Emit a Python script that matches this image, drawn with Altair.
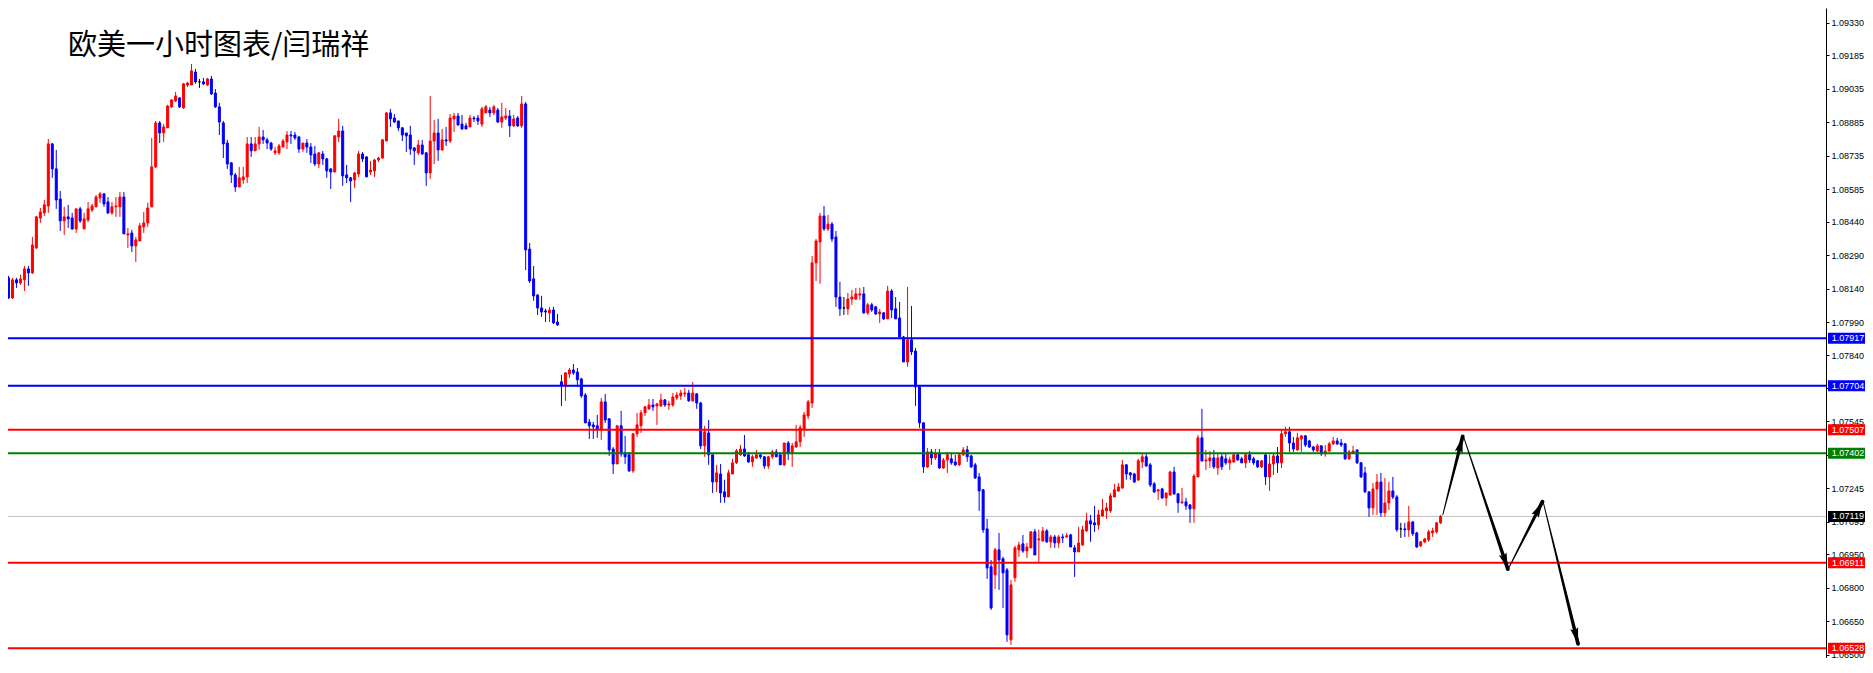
import altair as alt
import pandas as pd

# ---------------- data (EURUSD H1) ----------------
bar_index = list(range(-1, 361))

open_price = [
    1.08309, 1.08188, 1.08098, 1.08179, 1.08165, 1.08179, 1.08228, 1.08210, 1.08322, 1.08456,
    1.08479, 1.08510, 1.08788, 1.08676, 1.08541, 1.08443, 1.08461, 1.08456, 1.08407, 1.08497,
    1.08407, 1.08447, 1.08492, 1.08506, 1.08546, 1.08564, 1.08528, 1.08479, 1.08506, 1.08506,
    1.08550, 1.08380, 1.08389, 1.08331, 1.08353, 1.08416, 1.08434, 1.08506, 1.08685, 1.08882,
    1.08837, 1.08860, 1.08954, 1.08981, 1.08994, 1.08949, 1.09052, 1.09052, 1.09110, 1.09066,
    1.09066, 1.09052, 1.09079, 1.09016, 1.08954, 1.08882, 1.08792, 1.08703, 1.08649, 1.08595,
    1.08627, 1.08640, 1.08788, 1.08757, 1.08788, 1.08819, 1.08806, 1.08792, 1.08748, 1.08748,
    1.08774, 1.08797, 1.08828, 1.08828, 1.08819, 1.08765, 1.08792, 1.08774, 1.08743, 1.08698,
    1.08743, 1.08721, 1.08676, 1.08662, 1.08819, 1.08846, 1.08649, 1.08636, 1.08627, 1.08653,
    1.08743, 1.08730, 1.08662, 1.08667, 1.08716, 1.08725, 1.08801, 1.08927, 1.08904, 1.08891,
    1.08860, 1.08837, 1.08828, 1.08770, 1.08748, 1.08783, 1.08748, 1.08658, 1.08801, 1.08837,
    1.08761, 1.08806, 1.08801, 1.08900, 1.08913, 1.08877, 1.08869, 1.08864, 1.08904, 1.08904,
    1.08877, 1.08927, 1.08940, 1.08927, 1.08940, 1.08886, 1.08904, 1.08913, 1.08869, 1.08904,
    1.08869, 1.08967, 1.08317, 1.08183, 1.08111, 1.08053, 1.08040, 1.08031, 1.08044, 1.07990,
    1.07722, 1.07708, 1.07757, 1.07775, 1.07766, 1.07735, 1.07663, 1.07542, 1.07529, 1.07525,
    1.07507, 1.07632, 1.07556, 1.07421, 1.07354, 1.07525, 1.07404, 1.07395, 1.07323, 1.07489,
    1.07525, 1.07583, 1.07601, 1.07618, 1.07614, 1.07614, 1.07641, 1.07618, 1.07618, 1.07650,
    1.07659, 1.07668, 1.07672, 1.07637, 1.07668, 1.07627, 1.07435, 1.07493, 1.07395, 1.07273,
    1.07309, 1.07229, 1.07206, 1.07309, 1.07359, 1.07395, 1.07421, 1.07395, 1.07363, 1.07381,
    1.07395, 1.07386, 1.07345, 1.07386, 1.07408, 1.07395, 1.07350, 1.07448, 1.07404, 1.07430,
    1.07453, 1.07511, 1.07569, 1.07627, 1.08255, 1.08349, 1.08465, 1.08407, 1.08429, 1.08371,
    1.08102, 1.08053, 1.08049, 1.08093, 1.08093, 1.08111, 1.08116, 1.08031, 1.08067, 1.08058,
    1.08026, 1.08031, 1.08004, 1.08129, 1.08049, 1.08008, 1.07923, 1.07811, 1.07910, 1.07860,
    1.07699, 1.07538, 1.07341, 1.07408, 1.07381, 1.07399, 1.07336, 1.07372, 1.07377, 1.07363,
    1.07350, 1.07395, 1.07417, 1.07390, 1.07350, 1.07296, 1.07238, 1.07063, 1.06893, 1.06857,
    1.06969, 1.06929, 1.06879, 1.06566, 1.06844, 1.06969, 1.06996, 1.06964, 1.06978, 1.07050,
    1.07014, 1.07009, 1.07054, 1.07005, 1.07027, 1.07000, 1.07027, 1.07027, 1.07036, 1.06978,
    1.06960, 1.06991, 1.07054, 1.07099, 1.07090, 1.07081, 1.07121, 1.07144, 1.07144, 1.07206,
    1.07233, 1.07247, 1.07350, 1.07314, 1.07309, 1.07282, 1.07363, 1.07386, 1.07350, 1.07265,
    1.07233, 1.07242, 1.07202, 1.07215, 1.07318, 1.07220, 1.07180, 1.07184, 1.07170, 1.07153,
    1.07296, 1.07471, 1.07368, 1.07368, 1.07381, 1.07336, 1.07386, 1.07377, 1.07359, 1.07363,
    1.07395, 1.07377, 1.07359, 1.07395, 1.07377, 1.07368, 1.07341, 1.07395, 1.07296, 1.07354,
    1.07390, 1.07359, 1.07489, 1.07498, 1.07448, 1.07417, 1.07466, 1.07480, 1.07457, 1.07430,
    1.07412, 1.07435, 1.07399, 1.07412, 1.07444, 1.07457, 1.07448, 1.07444, 1.07377, 1.07404,
    1.07417, 1.07359, 1.07314, 1.07229, 1.07157, 1.07242, 1.07273, 1.07135, 1.07179, 1.07233,
    1.07206, 1.07063, 1.07063, 1.07059, 1.07094, 1.07045, 1.06987, 1.07005, 1.07014, 1.07045,
    1.07050, 1.07090,
]

high_price = [
    1.08317, 1.08197, 1.08188, 1.08188, 1.08201, 1.08241, 1.08241, 1.08371, 1.08465, 1.08501,
    1.08537, 1.08810, 1.08792, 1.08761, 1.08577, 1.08506, 1.08515, 1.08479, 1.08497, 1.08506,
    1.08479, 1.08528, 1.08519, 1.08559, 1.08573, 1.08568, 1.08550, 1.08528, 1.08550, 1.08573,
    1.08573, 1.08411, 1.08403, 1.08371, 1.08434, 1.08483, 1.08524, 1.08815, 1.08891, 1.08891,
    1.08877, 1.08963, 1.08989, 1.09021, 1.08998, 1.09061, 1.09066, 1.09146, 1.09124, 1.09079,
    1.09084, 1.09084, 1.09093, 1.09034, 1.08972, 1.08891, 1.08806, 1.08707, 1.08658, 1.08685,
    1.08685, 1.08819, 1.08819, 1.08819, 1.08864, 1.08851, 1.08815, 1.08797, 1.08774, 1.08788,
    1.08810, 1.08846, 1.08846, 1.08842, 1.08824, 1.08792, 1.08810, 1.08792, 1.08779, 1.08752,
    1.08757, 1.08725, 1.08680, 1.08828, 1.08900, 1.08869, 1.08694, 1.08640, 1.08662, 1.08756,
    1.08752, 1.08730, 1.08712, 1.08721, 1.08730, 1.08810, 1.08931, 1.08945, 1.08922, 1.08891,
    1.08864, 1.08837, 1.08869, 1.08774, 1.08806, 1.08806, 1.08752, 1.09003, 1.08895, 1.08900,
    1.08855, 1.08864, 1.08922, 1.08927, 1.08927, 1.08918, 1.08882, 1.08918, 1.08913, 1.08918,
    1.08954, 1.08963, 1.08954, 1.08963, 1.08949, 1.08972, 1.08949, 1.08940, 1.08918, 1.08913,
    1.09003, 1.08976, 1.08344, 1.08241, 1.08116, 1.08107, 1.08049, 1.08058, 1.08058, 1.08026,
    1.07753, 1.07766, 1.07784, 1.07802, 1.07784, 1.07740, 1.07672, 1.07556, 1.07542, 1.07574,
    1.07650, 1.07668, 1.07560, 1.07430, 1.07529, 1.07592, 1.07480, 1.07408, 1.07493, 1.07583,
    1.07596, 1.07614, 1.07645, 1.07645, 1.07627, 1.07668, 1.07645, 1.07637, 1.07672, 1.07677,
    1.07686, 1.07695, 1.07686, 1.07722, 1.07672, 1.07632, 1.07525, 1.07551, 1.07395, 1.07350,
    1.07354, 1.07283, 1.07327, 1.07377, 1.07421, 1.07439, 1.07484, 1.07408, 1.07395, 1.07417,
    1.07404, 1.07390, 1.07390, 1.07417, 1.07421, 1.07408, 1.07448, 1.07457, 1.07448, 1.07529,
    1.07529, 1.07587, 1.07641, 1.08286, 1.08362, 1.08479, 1.08510, 1.08470, 1.08438, 1.08398,
    1.08170, 1.08102, 1.08120, 1.08134, 1.08143, 1.08143, 1.08147, 1.08076, 1.08076, 1.08062,
    1.08049, 1.08035, 1.08152, 1.08138, 1.08102, 1.08080, 1.07928, 1.08147, 1.08062, 1.07874,
    1.07708, 1.07542, 1.07426, 1.07421, 1.07421, 1.07421, 1.07381, 1.07408, 1.07399, 1.07395,
    1.07404, 1.07430, 1.07435, 1.07395, 1.07359, 1.07314, 1.07242, 1.07108, 1.06924, 1.06978,
    1.07045, 1.06938, 1.06888, 1.06835, 1.06987, 1.07005, 1.07036, 1.07000, 1.07050, 1.07063,
    1.07059, 1.07072, 1.07063, 1.07036, 1.07036, 1.07036, 1.07041, 1.07045, 1.07041, 1.06991,
    1.07072, 1.07077, 1.07135, 1.07126, 1.07166, 1.07148, 1.07197, 1.07179, 1.07224, 1.07265,
    1.07269, 1.07372, 1.07354, 1.07318, 1.07314, 1.07377, 1.07399, 1.07404, 1.07359, 1.07273,
    1.07242, 1.07247, 1.07224, 1.07323, 1.07341, 1.07224, 1.07247, 1.07202, 1.07175, 1.07309,
    1.07484, 1.07601, 1.07417, 1.07412, 1.07417, 1.07404, 1.07399, 1.07399, 1.07386, 1.07399,
    1.07404, 1.07386, 1.07399, 1.07412, 1.07386, 1.07372, 1.07372, 1.07395, 1.07395, 1.07399,
    1.07430, 1.07507, 1.07520, 1.07520, 1.07475, 1.07493, 1.07484, 1.07484, 1.07462, 1.07435,
    1.07444, 1.07439, 1.07439, 1.07453, 1.07475, 1.07471, 1.07466, 1.07448, 1.07417, 1.07435,
    1.07417, 1.07363, 1.07341, 1.07229, 1.07269, 1.07309, 1.07314, 1.07291, 1.07273, 1.07296,
    1.07215, 1.07090, 1.07090, 1.07166, 1.07099, 1.07050, 1.07009, 1.07023, 1.07059, 1.07068,
    1.07094, 1.07126,
]

low_price = [
    1.08179, 1.08093, 1.08093, 1.08143, 1.08156, 1.08129, 1.08152, 1.08205, 1.08317, 1.08434,
    1.08465, 1.08479, 1.08636, 1.08497, 1.08398, 1.08380, 1.08411, 1.08403, 1.08389, 1.08434,
    1.08407, 1.08438, 1.08483, 1.08506, 1.08524, 1.08506, 1.08474, 1.08470, 1.08461, 1.08461,
    1.08385, 1.08322, 1.08304, 1.08259, 1.08353, 1.08389, 1.08416, 1.08506, 1.08680, 1.08792,
    1.08797, 1.08860, 1.08949, 1.08976, 1.08949, 1.08945, 1.09043, 1.09052, 1.09057, 1.09039,
    1.09052, 1.09048, 1.09007, 1.08949, 1.08828, 1.08725, 1.08676, 1.08613, 1.08573, 1.08595,
    1.08609, 1.08613, 1.08730, 1.08757, 1.08761, 1.08788, 1.08765, 1.08757, 1.08739, 1.08739,
    1.08774, 1.08765, 1.08788, 1.08806, 1.08748, 1.08752, 1.08748, 1.08703, 1.08689, 1.08680,
    1.08694, 1.08636, 1.08586, 1.08662, 1.08797, 1.08600, 1.08613, 1.08528, 1.08591, 1.08640,
    1.08707, 1.08640, 1.08649, 1.08640, 1.08707, 1.08721, 1.08801, 1.08864, 1.08882, 1.08846,
    1.08801, 1.08752, 1.08739, 1.08694, 1.08739, 1.08739, 1.08600, 1.08631, 1.08698, 1.08712,
    1.08757, 1.08779, 1.08792, 1.08842, 1.08869, 1.08851, 1.08855, 1.08864, 1.08886, 1.08873,
    1.08864, 1.08927, 1.08909, 1.08918, 1.08882, 1.08860, 1.08895, 1.08819, 1.08864, 1.08864,
    1.08860, 1.08223, 1.08165, 1.08085, 1.08022, 1.08013, 1.07990, 1.07990, 1.07981, 1.07973,
    1.07614, 1.07637, 1.07740, 1.07753, 1.07699, 1.07650, 1.07538, 1.07466, 1.07466, 1.07471,
    1.07462, 1.07538, 1.07390, 1.07309, 1.07354, 1.07386, 1.07354, 1.07318, 1.07314, 1.07475,
    1.07493, 1.07569, 1.07596, 1.07592, 1.07529, 1.07610, 1.07610, 1.07596, 1.07610, 1.07641,
    1.07641, 1.07654, 1.07632, 1.07632, 1.07601, 1.07421, 1.07386, 1.07350, 1.07224, 1.07229,
    1.07180, 1.07180, 1.07206, 1.07309, 1.07354, 1.07390, 1.07386, 1.07359, 1.07341, 1.07377,
    1.07377, 1.07332, 1.07332, 1.07377, 1.07386, 1.07350, 1.07345, 1.07372, 1.07341, 1.07426,
    1.07430, 1.07475, 1.07556, 1.07605, 1.08174, 1.08161, 1.08398, 1.08398, 1.08349, 1.08058,
    1.08017, 1.08022, 1.08022, 1.08067, 1.08089, 1.08089, 1.08026, 1.08022, 1.08035, 1.08022,
    1.07986, 1.07999, 1.08004, 1.08008, 1.08004, 1.07923, 1.07811, 1.07789, 1.07842, 1.07614,
    1.07516, 1.07314, 1.07336, 1.07350, 1.07372, 1.07332, 1.07332, 1.07314, 1.07350, 1.07345,
    1.07345, 1.07390, 1.07363, 1.07336, 1.07287, 1.07144, 1.07045, 1.06839, 1.06700, 1.06794,
    1.06790, 1.06709, 1.06557, 1.06543, 1.06826, 1.06938, 1.06956, 1.06933, 1.06978, 1.06946,
    1.06915, 1.07005, 1.07000, 1.06978, 1.06978, 1.06978, 1.07000, 1.07023, 1.06982, 1.06848,
    1.06960, 1.06987, 1.07050, 1.07005, 1.07050, 1.07059, 1.07117, 1.07108, 1.07135, 1.07206,
    1.07229, 1.07242, 1.07283, 1.07283, 1.07269, 1.07278, 1.07336, 1.07341, 1.07251, 1.07224,
    1.07193, 1.07197, 1.07166, 1.07211, 1.07215, 1.07135, 1.07175, 1.07148, 1.07090, 1.07090,
    1.07296, 1.07363, 1.07327, 1.07336, 1.07332, 1.07305, 1.07327, 1.07350, 1.07327, 1.07359,
    1.07368, 1.07359, 1.07336, 1.07359, 1.07350, 1.07336, 1.07336, 1.07260, 1.07233, 1.07305,
    1.07314, 1.07336, 1.07475, 1.07408, 1.07408, 1.07412, 1.07408, 1.07430, 1.07426, 1.07408,
    1.07408, 1.07390, 1.07386, 1.07408, 1.07439, 1.07439, 1.07430, 1.07372, 1.07372, 1.07399,
    1.07354, 1.07291, 1.07224, 1.07117, 1.07126, 1.07126, 1.07117, 1.07117, 1.07148, 1.07197,
    1.07050, 1.07023, 1.07027, 1.07027, 1.07032, 1.06978, 1.06982, 1.07000, 1.07005, 1.07027,
    1.07041, 1.07085,
]

close_price = [
    1.08188, 1.08098, 1.08179, 1.08165, 1.08183, 1.08228, 1.08210, 1.08335, 1.08461, 1.08483,
    1.08515, 1.08788, 1.08676, 1.08537, 1.08443, 1.08461, 1.08452, 1.08407, 1.08497, 1.08443,
    1.08452, 1.08497, 1.08510, 1.08550, 1.08564, 1.08519, 1.08479, 1.08506, 1.08510, 1.08550,
    1.08385, 1.08385, 1.08331, 1.08358, 1.08421, 1.08434, 1.08501, 1.08685, 1.08882, 1.08837,
    1.08864, 1.08958, 1.08985, 1.09003, 1.08954, 1.09057, 1.09061, 1.09115, 1.09066, 1.09066,
    1.09057, 1.09079, 1.09012, 1.08954, 1.08886, 1.08788, 1.08698, 1.08649, 1.08595, 1.08636,
    1.08640, 1.08788, 1.08757, 1.08788, 1.08819, 1.08806, 1.08792, 1.08765, 1.08757, 1.08779,
    1.08801, 1.08828, 1.08824, 1.08815, 1.08765, 1.08792, 1.08774, 1.08739, 1.08698, 1.08748,
    1.08721, 1.08667, 1.08662, 1.08824, 1.08846, 1.08645, 1.08636, 1.08622, 1.08658, 1.08743,
    1.08721, 1.08640, 1.08671, 1.08716, 1.08725, 1.08806, 1.08927, 1.08900, 1.08886, 1.08860,
    1.08828, 1.08824, 1.08765, 1.08757, 1.08783, 1.08743, 1.08658, 1.08801, 1.08837, 1.08761,
    1.08806, 1.08801, 1.08904, 1.08913, 1.08873, 1.08855, 1.08855, 1.08904, 1.08900, 1.08891,
    1.08945, 1.08954, 1.08927, 1.08954, 1.08886, 1.08909, 1.08913, 1.08869, 1.08900, 1.08869,
    1.08967, 1.08313, 1.08174, 1.08107, 1.08053, 1.08035, 1.08035, 1.08044, 1.07986, 1.07977,
    1.07708, 1.07762, 1.07775, 1.07762, 1.07731, 1.07659, 1.07538, 1.07525, 1.07520, 1.07507,
    1.07632, 1.07551, 1.07417, 1.07354, 1.07525, 1.07399, 1.07386, 1.07323, 1.07489, 1.07529,
    1.07583, 1.07610, 1.07618, 1.07610, 1.07623, 1.07641, 1.07618, 1.07623, 1.07654, 1.07663,
    1.07672, 1.07672, 1.07637, 1.07672, 1.07627, 1.07435, 1.07498, 1.07395, 1.07273, 1.07314,
    1.07224, 1.07206, 1.07314, 1.07359, 1.07413, 1.07421, 1.07390, 1.07363, 1.07386, 1.07395,
    1.07386, 1.07345, 1.07386, 1.07408, 1.07386, 1.07350, 1.07448, 1.07404, 1.07435, 1.07453,
    1.07516, 1.07574, 1.07632, 1.08255, 1.08353, 1.08465, 1.08407, 1.08429, 1.08362, 1.08102,
    1.08049, 1.08053, 1.08093, 1.08102, 1.08116, 1.08116, 1.08031, 1.08067, 1.08044, 1.08026,
    1.08035, 1.08004, 1.08129, 1.08044, 1.08004, 1.07923, 1.07811, 1.07910, 1.07856, 1.07699,
    1.07538, 1.07341, 1.07408, 1.07381, 1.07399, 1.07336, 1.07372, 1.07395, 1.07359, 1.07350,
    1.07395, 1.07417, 1.07386, 1.07341, 1.07291, 1.07233, 1.07059, 1.06888, 1.06709, 1.06969,
    1.06924, 1.06866, 1.06588, 1.06812, 1.06978, 1.06991, 1.06964, 1.06982, 1.07050, 1.06946,
    1.07018, 1.07054, 1.07005, 1.07027, 1.07000, 1.07027, 1.07023, 1.07032, 1.06982, 1.06960,
    1.07000, 1.07059, 1.07099, 1.07085, 1.07081, 1.07126, 1.07148, 1.07157, 1.07211, 1.07238,
    1.07251, 1.07350, 1.07309, 1.07305, 1.07273, 1.07368, 1.07386, 1.07345, 1.07260, 1.07229,
    1.07238, 1.07202, 1.07224, 1.07318, 1.07220, 1.07180, 1.07184, 1.07166, 1.07153, 1.07300,
    1.07471, 1.07368, 1.07372, 1.07381, 1.07341, 1.07381, 1.07341, 1.07359, 1.07372, 1.07395,
    1.07372, 1.07359, 1.07395, 1.07372, 1.07359, 1.07341, 1.07368, 1.07296, 1.07354, 1.07390,
    1.07359, 1.07489, 1.07498, 1.07448, 1.07421, 1.07471, 1.07480, 1.07439, 1.07430, 1.07417,
    1.07435, 1.07399, 1.07412, 1.07444, 1.07457, 1.07444, 1.07439, 1.07377, 1.07408, 1.07412,
    1.07359, 1.07296, 1.07229, 1.07157, 1.07242, 1.07273, 1.07135, 1.07179, 1.07233, 1.07206,
    1.07059, 1.07063, 1.07059, 1.07094, 1.07041, 1.06982, 1.07005, 1.07018, 1.07050, 1.07054,
    1.07090, 1.07119,
]

# horizontal price levels and their tags on the price scale
level_price = [1.07917, 1.07704, 1.07507, 1.07402, 1.07119, 1.06911, 1.06528]
level_label = ["1.07917", "1.07704", "1.07507", "1.07402", "1.07119", "1.06911", "1.06528"]

# price-scale tick labels
tick_values = [1.09330, 1.09185, 1.09035, 1.08885, 1.08735, 1.08585, 1.08440, 1.08290,
               1.08140, 1.07990, 1.07840, 1.07695, 1.07545, 1.07395, 1.07245, 1.07095,
               1.06950, 1.06800, 1.06650, 1.06500]

# projected path drawn as arrows (bar position, price)
arrow_seg = [1, 1, 2, 2, 3, 3, 4, 4]
arrow_bar = [360.55, 365.55, 365.8, 376.9, 377.1, 385.6, 385.8, 394.55]
arrow_price = [1.07126, 1.07477, 1.07474, 1.06883, 1.06887, 1.07185, 1.07183, 1.06548]

title_text = "欧美一小时图表/闫瑞祥"

# ---------------- styles ----------------
DIR_COLORS = {"up": "#ff0000", "down": "#0000ff", "flat": "#000000"}
LINE_COLORS = {"1.07917": "#0000ff", "1.07704": "#0000ff", "1.07507": "#ff0000",
               "1.07402": "#008000", "1.07119": "#c0c0c0", "1.06911": "#ff0000",
               "1.06528": "#ff0000"}
TAG_COLORS = dict(LINE_COLORS, **{"1.07119": "#000000"})
HEAD_ANGLE = {1: 14.3, 2: 161.4, 3: 27.0, 4: 166.1}

W, H = 1818, 650
xs = alt.Scale(domain=[1.125, 455.625], nice=False, zero=False)
ys = alt.Scale(domain=[1.064845, 1.09397], nice=False, zero=False)

y_axis = alt.Axis(orient="right", values=tick_values, format=".5f", title=None, grid=False,
                  domain=True, domainColor="#000000", domainWidth=1,
                  ticks=True, tickSize=3, tickColor="#000000", tickWidth=1,
                  labelFont="Liberation Sans", labelFontSize=9, labelColor="#000000",
                  labelPadding=2, labelOverlap=False, labelFlush=False,
                  labelBaseline="middle", labelAlign="left")


def Y(field):
    return alt.Y(field, type="quantitative", scale=ys, axis=y_axis)


def X(field):
    return alt.X(field, type="quantitative", scale=xs, axis=None)


candles = pd.DataFrame({"bar": bar_index, "open": open_price, "high": high_price,
                        "low": low_price, "close": close_price})
candles["dir"] = ["up" if c > o else ("down" if c < o else "flat")
                  for o, c in zip(open_price, close_price)]
candles["col"] = candles["dir"].map(DIR_COLORS)

levels = pd.DataFrame({"price": level_price, "name": level_label})
levels["line_col"] = levels["name"].map(LINE_COLORS)
levels["tag_col"] = levels["name"].map(TAG_COLORS)
levels["is_current"] = levels["name"] == "1.07119"

arrows = pd.DataFrame({"seg": arrow_seg, "bar": arrow_bar, "price": arrow_price})
arrows["ord"] = [0, 1] * 4
arrows["w"] = [0.9, 3.8] * 4
heads = arrows[arrows["ord"] == 1].copy()
heads["ang"] = heads["seg"].map(HEAD_ANGLE)

cur_line = alt.Chart(levels[levels["is_current"]]).mark_rule(strokeWidth=1, color="#c0c0c0").encode(
    y=Y("price"))

wick = alt.Chart(candles).mark_rule(strokeWidth=1, clip=True).encode(
    x=X("bar"), y=Y("low"), y2="high",
    stroke=alt.Stroke("col:N", scale=None, legend=None))

body = alt.Chart(candles).mark_bar(size=2, strokeWidth=1, clip=True).encode(
    x=X("bar"), y=Y("open"), y2="close",
    fill=alt.Fill("col:N", scale=None, legend=None),
    stroke=alt.Stroke("col:N", scale=None, legend=None))

lvl_lines = alt.Chart(levels[~levels["is_current"]]).mark_rule(strokeWidth=2).encode(
    y=Y("price"), stroke=alt.Stroke("line_col:N", scale=None, legend=None))

trail = alt.Chart(arrows).mark_trail(color="#000000").encode(
    x=X("bar"), y=Y("price"), detail="seg:N", order="ord:Q",
    size=alt.Size("w:Q", scale=None, legend=None))

head_path = "M0,0L0.5,2L0,1.7L-0.5,2Z"
head = alt.Chart(heads).mark_point(shape=head_path, filled=True, size=256, opacity=1,
                                   color="#000000", strokeWidth=0).encode(
    x=X("bar"), y=Y("price"), angle=alt.Angle("ang:Q", scale=None))

tag_path = "M-1,-0.268H1V0.268H-1Z"
tags = alt.Chart(levels).mark_point(shape=tag_path, filled=True, size=1681, opacity=1,
                                    strokeWidth=0).encode(
    x=alt.value(1840.5), y=Y("price"),
    fill=alt.Fill("tag_col:N", scale=None, legend=None))

tag_text = alt.Chart(levels).mark_text(font="Liberation Sans", fontSize=9, color="#ffffff",
                                       align="center", baseline="middle").encode(
    x=alt.value(1840), y=Y("price"), text="name:N")

title = alt.Chart(pd.DataFrame({"t": [title_text]})).mark_text(
    font="Noto Sans CJK SC", fontSize=29, color="#000000", align="left", baseline="middle"
).encode(x=alt.value(60), y=alt.value(37.5), text="t:N")

chart = alt.layer(cur_line, wick, body, lvl_lines, trail, head, tags, tag_text, title).properties(
    width=W, height=H,
    autosize=alt.AutoSizeParams(type="none"),
    padding={"left": 0, "top": 0, "right": 39, "bottom": 0},
    background="#ffffff",
).configure_view(stroke=None)

chart.save("out.html", embed_options={"renderer": "svg", "actions": False})
